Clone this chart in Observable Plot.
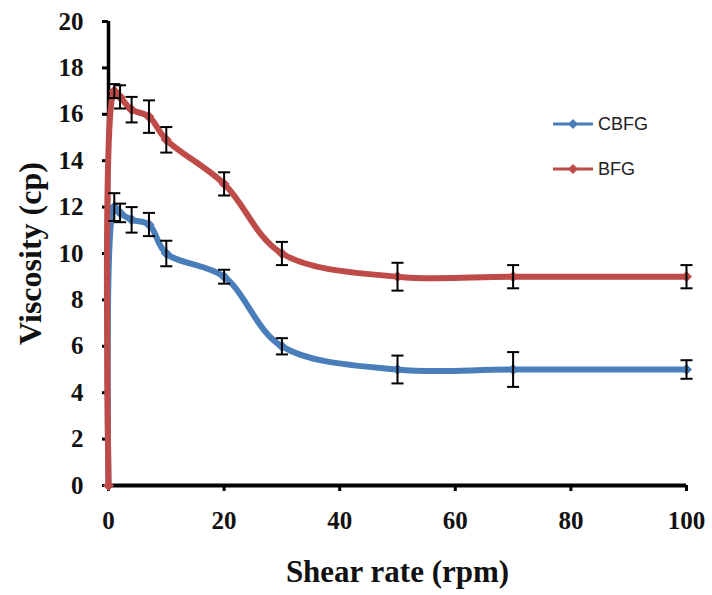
<!DOCTYPE html>
<html>
<head>
<meta charset="utf-8">
<script src="https://cdn.jsdelivr.net/npm/d3@7"></script>
<script src="https://cdn.jsdelivr.net/npm/@observablehq/plot@0.6"></script>
<style>
  html, body { margin: 0; padding: 0; background: #fff; }
  #wrap { position: relative; width: 712px; height: 595px; }
  .legend { position: absolute; left: 552px; font-family: "Liberation Sans", Arial, sans-serif; font-size: 18px; color: #222; display: flex; align-items: center; }
  .legend svg { display: block; margin-right: 4px; }
</style>
</head>
<body>
<div id="wrap"></div>
<script>
// ---- data ----
const shearRate = [0, 1, 2, 4, 7, 10, 20, 30, 50, 70, 100];
const cbfg      = [0, 12.0, 11.75, 11.45, 11.25, 10.0, 9.0, 6.0, 5.0, 5.0, 5.0];
const cbfgErr   = [0, 0.6, 0.4, 0.55, 0.5, 0.55, 0.3, 0.35, 0.6, 0.75, 0.4];
const bfg       = [0, 17.0, 16.75, 16.2, 15.9, 14.9, 13.0, 10.0, 9.0, 9.0, 9.0];
const bfgErr    = [0, 0.3, 0.5, 0.55, 0.7, 0.55, 0.5, 0.5, 0.6, 0.5, 0.5];
const seriesNames = ["CBFG", "BFG"];
const seriesColors = ["#4a7ebb", "#be4b48"];
const xTicks = [0, 20, 40, 60, 80, 100];
const yTicks = [0, 2, 4, 6, 8, 10, 12, 14, 16, 18, 20];
const xTitle = "Shear rate (rpm)";
const yTitle = "Viscosity (cp)";

const rows = [];
shearRate.forEach((x, i) => {
  rows.push({series: seriesNames[0], x, y: cbfg[i], err: cbfgErr[i]});
  rows.push({series: seriesNames[1], x, y: bfg[i], err: bfgErr[i]});
});
const errRows = rows.filter(d => d.err > 0);
const cap = {draw(ctx, size) { const w = Math.sqrt(size); ctx.moveTo(-w, 0); ctx.lineTo(w, 0); }};

const serif = "'Liberation Serif', 'Times New Roman', serif";
const lineMarks = [];
seriesNames.forEach((s, k) => {
  const data = rows.filter(d => d.series === s);
  lineMarks.push(Plot.line(data, {x: "x", y: "y", stroke: seriesColors[k], strokeWidth: 6, curve: "catmull-rom"}));
  lineMarks.push(Plot.dot(data, {x: "x", y: "y", symbol: "diamond2", r: 4.5, fill: seriesColors[k], stroke: seriesColors[k], strokeWidth: 1}));
});

const chart = Plot.plot({
  width: 712, height: 595,
  marginLeft: 108, marginRight: 26, marginTop: 21, marginBottom: 110,
  style: {fontFamily: serif, background: "#fff", overflow: "visible"},
  x: {domain: [0, 100]},
  y: {domain: [0, 20]},
  marks: [
    Plot.axisX({ticks: xTicks, tickSize: 6, tickPadding: 20, fontSize: 25, fontWeight: "bold", stroke: "#000", strokeWidth: 3, label: null, color: "#111"}),
    Plot.axisY({ticks: yTicks, tickSize: 6, tickPadding: 19, fontSize: 25, fontWeight: "bold", stroke: "#000", strokeWidth: 3, label: null, color: "#111"}),
    Plot.ruleX([0], {stroke: "#000", strokeWidth: 3.5}),
    Plot.ruleY([0], {stroke: "#000", strokeWidth: 4}),
    ...lineMarks,
    Plot.ruleX(errRows, {x: "x", y1: d => d.y - d.err, y2: d => d.y + d.err, stroke: "#000", strokeWidth: 2}),
    Plot.dot(errRows, {x: "x", y: d => d.y + d.err, symbol: cap, r: 3.4, stroke: "#000", strokeWidth: 2, fill: "none"}),
    Plot.dot(errRows, {x: "x", y: d => d.y - d.err, symbol: cap, r: 3.4, stroke: "#000", strokeWidth: 2, fill: "none"}),
    Plot.text([xTitle], {frameAnchor: "bottom", dy: 87, fontSize: 31, fontWeight: "bold", fill: "#111", lineAnchor: "middle", textAnchor: "middle"}),
    Plot.text([yTitle], {frameAnchor: "left", dx: -78, rotate: -90, fontSize: 32, fontWeight: "bold", fill: "#111", lineAnchor: "middle", textAnchor: "middle"})
  ]
});
const wrap = document.getElementById("wrap");
wrap.appendChild(chart);

// legend overlay
const legendTops = [111, 156];
seriesNames.forEach((s, k) => {
  const div = document.createElement("div");
  div.className = "legend";
  div.style.top = legendTops[k] + "px";
  div.innerHTML = `<svg width="42" height="26"><line x1="1" y1="13" x2="41" y2="13" stroke="${seriesColors[k]}" stroke-width="3"/><path d="M21 8 L26 13 L21 18 L16 13 Z" fill="${seriesColors[k]}"/></svg><span>${s}</span>`;
  wrap.appendChild(div);
});
</script>
</body>
</html>
